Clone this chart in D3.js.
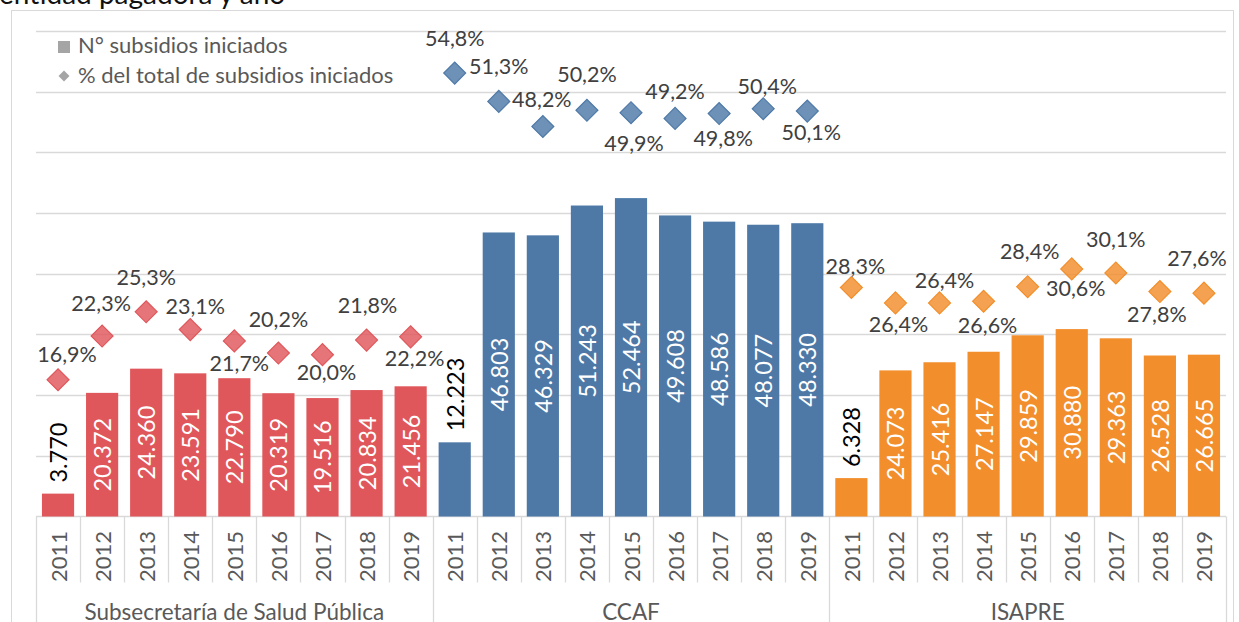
<!DOCTYPE html>
<html>
<head>
<meta charset="utf-8">
<script src="https://cdn.jsdelivr.net/npm/d3@7"></script>
<style>
    body { margin: 0; background: #fff; }
    svg { display: block; font-family: Lato, "Open Sans", sans-serif; }
</style>
</head>
<body>
<svg id="chart" width="1239" height="622"></svg>
<script>
// Data
var groups = ["Subsecretaría de Salud Pública", "CCAF", "ISAPRE"];
var years = ["2011", "2012", "2013", "2014", "2015", "2016", "2017", "2018", "2019"];

// N° subsidios iniciados
var subsidiosSSP = [3770, 20372, 24360, 23591, 22790, 20319, 19516, 20834, 21456];
var subsidiosCCAF = [12223, 46803, 46329, 51243, 52464, 49608, 48586, 48077, 48330];
var subsidiosISAPRE = [6328, 24073, 25416, 27147, 29859, 30880, 29363, 26528, 26665];

// % del total de subsidios iniciados
var pctSSP = [16.9, 22.3, 25.3, 23.1, 21.7, 20.2, 20.0, 21.8, 22.2];
var pctCCAF = [54.8, 51.3, 48.2, 50.2, 49.9, 49.2, 49.8, 50.4, 50.1];
var pctISAPRE = [28.3, 26.4, 26.4, 26.6, 28.4, 30.6, 30.1, 27.8, 27.6];

var legendLabels = ["N° subsidios iniciados", "% del total de subsidios iniciados"];
var title = "entidad pagadora y año";

// styling (not data)
var barColors = ["#E0575B", "#4E79A7", "#F28E2B"];
// where each % label sits relative to its diamond (dx, dy), like excel's label placement
var pctLabelNudge = [
    [[9, -26], [-1, -33], [0, -35], [5, -24], [5, 22], [0, -34], [4, 17], [1, -35], [4, 21]],
    [[0, -35], [0, -35], [-1, -27], [0, -36], [3, 30], [0, -27], [4, 24], [4, -23], [4, 21]],
    [[4, -22], [3, 21], [5, -23], [4, 24], [2, -36], [4, 19], [0, -34], [-3, 22], [-7, -35]]
];

var subsidios = [subsidiosSSP, subsidiosCCAF, subsidiosISAPRE];
var pcts = [pctSSP, pctCCAF, pctISAPRE];

chart();

function chart() {
    var svg = d3.select("#chart"),
        margin = {top: 31, left: 36, bottom: 105.5, right: 13},
        width = +svg.attr("width"),
        height = +svg.attr("height");
    var plotBottom = height - margin.bottom,
        plotRight = width - margin.right;

    var es = d3.formatLocale({decimal: ",", thousands: ".", grouping: [3], currency: ["$", ""]});
    var fmtN = es.format(",d"),
        fmtP = function(v) { return es.format(".1f")(v) + "%"; };

    // flatten the groups into one row per category
    var rows = [];
    groups.forEach(function(g, gi) {
        years.forEach(function(yr, yi) {
            rows.push({key: g + "|" + yr, group: g, gi: gi, year: yr,
                n: subsidios[gi][yi], pct: pcts[gi][yi], nudge: pctLabelNudge[gi][yi]});
        });
    });

    var x = d3.scaleBand()
        .domain(rows.map(d => d.key))
        .range([margin.left, plotRight])
        .paddingInner(0.27)
        .paddingOuter(0.135);
    var step = x.step();

    var yBar = d3.scaleLinear().domain([0, 80000]).range([plotBottom, margin.top]);
    var yPct = d3.scaleLinear().domain([0, 60]).range([plotBottom, margin.top]);

    // outer chart frame
    svg.append("rect")
        .attr("x", 11.5).attr("y", 10.5)
        .attr("width", 1222).attr("height", 700)
        .attr("fill", "none").attr("stroke", "#d9d9d9");

    // title, cut off at the top like in the picture
    svg.append("text")
        .attr("x", -1).attr("y", 4)
        .attr("font-size", 28).attr("fill", "#111")
        .text(title);

    // gridlines
    svg.append("g").selectAll("line")
        .data(yBar.ticks(8).filter(t => t > 0))
        .enter().append("line")
        .attr("x1", margin.left).attr("x2", plotRight)
        .attr("y1", d => Math.round(yBar(d)) + 0.5)
        .attr("y2", d => Math.round(yBar(d)) + 0.5)
        .attr("stroke", "#d9d9d9").attr("stroke-width", 1.3);

    // category axis: baseline, tick separators, years and groups
    var axis = svg.append("g");
    axis.append("line")
        .attr("x1", margin.left).attr("x2", plotRight)
        .attr("y1", plotBottom).attr("y2", plotBottom)
        .attr("stroke", "#d9d9d9").attr("stroke-width", 1.3);

    axis.selectAll("line.tick")
        .data(d3.range(rows.length + 1))
        .enter().append("line").attr("class", "tick")
        .attr("x1", i => Math.round(margin.left + i * step) + 0.5)
        .attr("x2", i => Math.round(margin.left + i * step) + 0.5)
        .attr("y1", plotBottom)
        .attr("y2", i => i % years.length == 0 ? height : plotBottom + 66)
        .attr("stroke", "#d9d9d9").attr("stroke-width", 1.3);

    axis.selectAll("text.year")
        .data(rows)
        .enter().append("text").attr("class", "year")
        .attr("transform", d => `translate(${x(d.key) + x.bandwidth() / 2},${plotBottom + 40}) rotate(-90)`)
        .attr("text-anchor", "middle")
        .attr("dominant-baseline", "central")
        .attr("font-size", 22).attr("fill", "#595959")
        .text(d => d.year);

    axis.selectAll("text.group")
        .data(groups)
        .enter().append("text").attr("class", "group")
        .attr("x", (g, gi) => margin.left + (gi + 0.5) * years.length * step)
        .attr("y", height - 2)
        .attr("text-anchor", "middle")
        .attr("font-size", 22.5).attr("fill", "#595959")
        .text(g => g);

    // bars
    svg.append("g").selectAll("rect")
        .data(rows)
        .enter().append("rect")
        .attr("x", d => x(d.key))
        .attr("width", x.bandwidth())
        .attr("y", d => yBar(d.n))
        .attr("height", d => plotBottom - yBar(d.n))
        .attr("fill", d => barColors[d.gi]);

    // bar value labels: inside (white) for the tall bars, above (black) for the short ones
    svg.append("g").selectAll("text")
        .data(rows)
        .enter().append("text")
        .attr("transform", function(d) {
            var inside = d.n > 15000;
            var yy = inside ? (yBar(d.n) + plotBottom) / 2 : yBar(d.n) - 11;
            return `translate(${x(d.key) + x.bandwidth() / 2},${yy}) rotate(-90)`;
        })
        .attr("text-anchor", d => d.n > 15000 ? "middle" : "start")
        .attr("dominant-baseline", "central")
        .attr("font-size", 23.5)
        .attr("fill", d => d.n > 15000 ? "#fff" : "#000")
        .text(d => fmtN(d.n));

    // % diamonds
    var diamond = d3.symbol().type(d3.symbolSquare).size(240);
    svg.append("g").selectAll("path")
        .data(rows)
        .enter().append("path")
        .attr("d", diamond)
        .attr("transform", d => `translate(${x(d.key) + x.bandwidth() / 2},${yPct(d.pct)}) rotate(45)`)
        .attr("fill", d => barColors[d.gi]).attr("fill-opacity", 0.82)
        .attr("stroke", d => barColors[d.gi]).attr("stroke-width", 1.2);

    svg.append("g").selectAll("text")
        .data(rows)
        .enter().append("text")
        .attr("x", d => x(d.key) + x.bandwidth() / 2 + d.nudge[0])
        .attr("y", d => yPct(d.pct) + d.nudge[1])
        .attr("text-anchor", "middle")
        .attr("dominant-baseline", "central")
        .attr("font-size", 21.5).attr("fill", "#404040")
        .text(d => fmtP(d.pct));

    // legend
    var legend = svg.append("g").attr("font-size", 22).attr("fill", "#595959");
    legend.append("rect")
        .attr("x", 58).attr("y", 41).attr("width", 12).attr("height", 12)
        .attr("fill", "#A5A5A5");
    legend.append("text").attr("x", 78).attr("y", 53).text(legendLabels[0]);
    legend.append("path")
        .attr("d", d3.symbol().type(d3.symbolSquare).size(60))
        .attr("transform", "translate(64,76) rotate(45)")
        .attr("fill", "#A5A5A5");
    legend.append("text").attr("x", 78).attr("y", 83).text(legendLabels[1]);
}
</script>
</body>
</html>
